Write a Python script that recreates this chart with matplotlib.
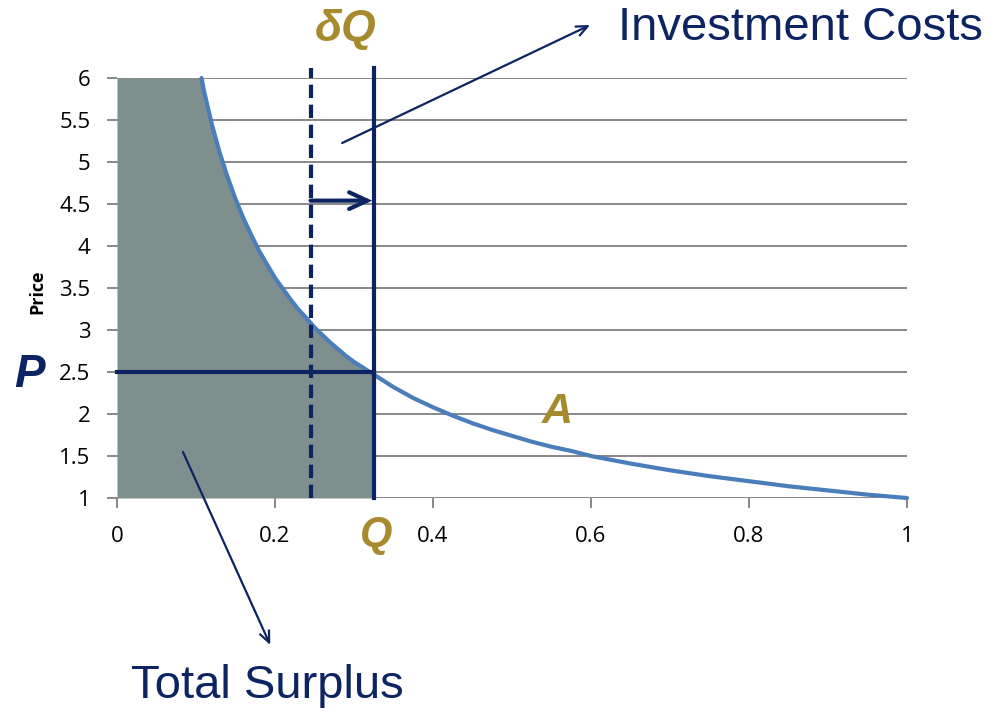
import numpy as np
import matplotlib
matplotlib.use("Agg")
import matplotlib.pyplot as plt

# Demand curve (quantity, price)
quantity = [0.107, 0.11, 0.12, 0.13, 0.14, 0.15, 0.16, 0.17, 0.18, 0.19, 0.20,
            0.21, 0.22, 0.23, 0.24, 0.25, 0.26, 0.27, 0.28, 0.29, 0.30, 0.325,
            0.35, 0.375, 0.40, 0.425, 0.45, 0.475, 0.50, 0.525, 0.55, 0.575,
            0.60, 0.65, 0.70, 0.75, 0.80, 0.85, 0.90, 0.95, 1.00]
price = [6.00, 5.85, 5.45, 5.11, 4.82, 4.56, 4.33, 4.13, 3.94, 3.78, 3.62,
         3.49, 3.36, 3.24, 3.14, 3.03, 2.94, 2.85, 2.77, 2.69, 2.62, 2.47,
         2.32, 2.19, 2.08, 1.98, 1.89, 1.81, 1.74, 1.67, 1.61, 1.56,
         1.50, 1.41, 1.33, 1.26, 1.20, 1.14, 1.09, 1.04, 1.00]

Q = 0.325          # equilibrium quantity
Q_prev = 0.245     # quantity before the investment step (δQ)
P = 2.5            # equilibrium price
arrow_price = 4.54

x_ticks = [0, 0.2, 0.4, 0.6, 0.8, 1]
x_tick_labels = ["0", "0.2", "0.4", "0.6", "0.8", "1"]
y_ticks = [1, 1.5, 2, 2.5, 3, 3.5, 4, 4.5, 5, 5.5, 6]
y_tick_labels = ["1", "1.5", "2", "2.5", "3", "3.5", "4", "4.5", "5", "5.5", "6"]

NAVY = "#0C2461"
GOLD = "#A88A2E"
FILL = "#7F8F8D"
CURVE = "#4A7EBB"
GRID = "#888888"

W, H = 992, 712
fig = plt.figure(figsize=(W / 100, H / 100), dpi=100)
ax = fig.add_axes([117 / W, 1 - 498 / H, 790 / W, 420 / H])
ax.set_xlim(0, 1)
ax.set_ylim(1, 6)

# horizontal gridlines (also form the axis baseline)
for yv in y_ticks:
    ax.axhline(yv, color=GRID, lw=1.4, zorder=1)

# total surplus area under the demand curve up to Q
qa = np.array(quantity)
pa = np.array(price)
mask = qa <= Q
fx = np.concatenate([[0.0], qa[mask]])
fy = np.concatenate([[6.0], pa[mask]])
ax.fill_between(fx, 1, fy, color=FILL, lw=0, zorder=2)

# demand curve
ax.plot(quantity, price, color=CURVE, lw=3, solid_capstyle="round",
        solid_joinstyle="round", zorder=4, clip_on=False)

# Q and δQ markers, price line
ax.plot([Q, Q], [1, 6.12], color=NAVY, lw=3, zorder=5, clip_on=False)
ax.plot([Q_prev, Q_prev], [1, 6.12], color=NAVY, lw=3, zorder=5,
        clip_on=False, dashes=(3.2, 1.6))
ax.plot([0, Q], [P, P], color=NAVY, lw=3, zorder=5, clip_on=False)
ax.annotate("", xy=(Q - 0.002, arrow_price), xytext=(Q_prev, arrow_price),
            arrowprops=dict(arrowstyle="->,head_length=1.3,head_width=0.6",
                            color=NAVY, lw=3, shrinkA=0, shrinkB=0,
                            joinstyle="miter"), zorder=6)

# ticks and labels
ax.set_xticks(x_ticks)
ax.set_xticklabels(x_tick_labels)
ax.set_yticks(y_ticks)
ax.set_yticklabels(y_tick_labels)
ax.tick_params(axis="x", length=7, width=1.4, color=GRID, pad=13, labelsize=16)
ax.tick_params(axis="y", length=7, width=1.4, color=GRID, pad=12, labelsize=16)
for lab in ax.get_xticklabels() + ax.get_yticklabels():
    lab.set_fontfamily("Open Sans")
for s in ax.spines.values():
    s.set_visible(False)

ax.text(-0.101, 3.45, "Price", rotation=90, ha="center", va="center",
        fontsize=13, fontweight="bold", family="Open Sans")

bold_it = dict(family="Liberation Sans", fontweight="bold", style="italic")
ax.text(-0.111, 2.47, "P", ha="center", va="center", color=NAVY,
        fontsize=33, clip_on=False, **bold_it)
ax.text(0.328, 0.56, "Q", ha="center", va="center", color=GOLD,
        fontsize=30, clip_on=False, **bold_it)
ax.text(0.289, 6.58, "δQ", ha="center", va="center", color=GOLD,
        fontsize=32, clip_on=False, **bold_it)
ax.text(0.557, 2.02, "A", ha="center", va="center", color=GOLD,
        fontsize=31, clip_on=False, **bold_it)

# callouts
ax.text(0.634, 6.595, "Investment Costs", ha="left", va="center", color=NAVY,
        fontsize=34, family="Liberation Sans", clip_on=False)
ax.annotate("", xy=(0.599, 6.631), xytext=(0.285, 5.226),
            arrowprops=dict(arrowstyle="->,head_length=0.8,head_width=0.35",
                            color=NAVY, lw=1.6, shrinkA=0, shrinkB=0),
            annotation_clip=False, zorder=7)
ax.text(0.0177, -1.238, "Total Surplus", ha="left", va="center", color=NAVY,
        fontsize=34, family="Liberation Sans", clip_on=False)
ax.annotate("", xy=(0.194, -0.75), xytext=(0.0835, 1.548),
            arrowprops=dict(arrowstyle="->,head_length=0.8,head_width=0.35",
                            color=NAVY, lw=1.6, shrinkA=0, shrinkB=0),
            annotation_clip=False, zorder=7)

fig.savefig("out.png", dpi=100)
